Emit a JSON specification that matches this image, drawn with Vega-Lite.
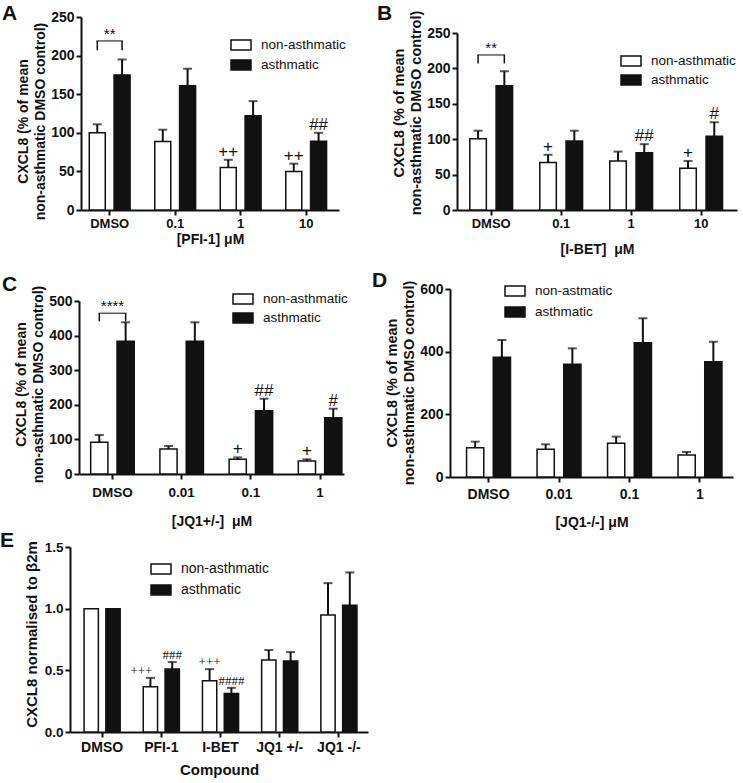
{
  "$schema": "https://vega.github.io/schema/vega-lite/v6.json",
  "padding": {"left": 0, "top": 2, "right": 0, "bottom": 0},
  "autosize": {"type": "pad"},
  "background": "white",
  "datasets": {
    "A": [
      {"conc": "DMSO", "group": "non-asthmatic", "mean": 100, "upper": 111, "ann": null},
      {"conc": "DMSO", "group": "asthmatic", "mean": 175, "upper": 195, "ann": null},
      {"conc": "0.1", "group": "non-asthmatic", "mean": 88.7, "upper": 104, "ann": null},
      {"conc": "0.1", "group": "asthmatic", "mean": 161, "upper": 183, "ann": null},
      {"conc": "1", "group": "non-asthmatic", "mean": 55, "upper": 65, "ann": "++"},
      {"conc": "1", "group": "asthmatic", "mean": 122, "upper": 141, "ann": null},
      {"conc": "10", "group": "non-asthmatic", "mean": 50, "upper": 60, "ann": "++"},
      {"conc": "10", "group": "asthmatic", "mean": 89, "upper": 100, "ann": "##"}
    ],
    "sA": [
      {"conc": "DMSO", "group": "non-asthmatic", "lo": 207, "hi": 219, "label": "**"},
      {"conc": "DMSO", "group": "asthmatic", "lo": 207, "hi": 219, "label": "**"}
    ],
    "B": [
      {"conc": "DMSO", "group": "non-asthmatic", "mean": 100.5, "upper": 112, "ann": null},
      {"conc": "DMSO", "group": "asthmatic", "mean": 175.5, "upper": 196, "ann": null},
      {"conc": "0.1", "group": "non-asthmatic", "mean": 67, "upper": 78, "ann": "+"},
      {"conc": "0.1", "group": "asthmatic", "mean": 97.6, "upper": 112, "ann": null},
      {"conc": "1", "group": "non-asthmatic", "mean": 69.3, "upper": 82.5, "ann": null},
      {"conc": "1", "group": "asthmatic", "mean": 80.7, "upper": 93, "ann": "##"},
      {"conc": "10", "group": "non-asthmatic", "mean": 59, "upper": 69.3, "ann": "+"},
      {"conc": "10", "group": "asthmatic", "mean": 104, "upper": 124, "ann": "#"}
    ],
    "sB": [
      {"conc": "DMSO", "group": "non-asthmatic", "lo": 207, "hi": 219, "label": "**"},
      {"conc": "DMSO", "group": "asthmatic", "lo": 207, "hi": 219, "label": "**"}
    ],
    "C": [
      {"conc": "DMSO", "group": "non-asthmatic", "mean": 91.6, "upper": 112.7, "ann": null},
      {"conc": "DMSO", "group": "asthmatic", "mean": 383.5, "upper": 438.4, "ann": null},
      {"conc": "0.01", "group": "non-asthmatic", "mean": 72.3, "upper": 81, "ann": null},
      {"conc": "0.01", "group": "asthmatic", "mean": 383.5, "upper": 438.4, "ann": null},
      {"conc": "0.1", "group": "non-asthmatic", "mean": 42.5, "upper": 48, "ann": "+"},
      {"conc": "0.1", "group": "asthmatic", "mean": 183, "upper": 217.6, "ann": "##"},
      {"conc": "1", "group": "non-asthmatic", "mean": 37.6, "upper": 42.5, "ann": "+"},
      {"conc": "1", "group": "asthmatic", "mean": 162.7, "upper": 188.7, "ann": "#"}
    ],
    "sC": [
      {"conc": "DMSO", "group": "non-asthmatic", "lo": 441, "hi": 464.5, "label": "****"},
      {"conc": "DMSO", "group": "asthmatic", "lo": 441, "hi": 464.5, "label": "****"}
    ],
    "D": [
      {"conc": "DMSO", "group": "non-astmatic", "mean": 93.6, "upper": 112.8},
      {"conc": "DMSO", "group": "asthmatic", "mean": 382, "upper": 437.3},
      {"conc": "0.01", "group": "non-astmatic", "mean": 88.3, "upper": 104.3},
      {"conc": "0.01", "group": "asthmatic", "mean": 359.6, "upper": 410.6},
      {"conc": "0.1", "group": "non-astmatic", "mean": 107.5, "upper": 128.7},
      {"conc": "0.1", "group": "asthmatic", "mean": 428.7, "upper": 506.5},
      {"conc": "1", "group": "non-astmatic", "mean": 70.2, "upper": 79.8},
      {"conc": "1", "group": "asthmatic", "mean": 368, "upper": 431.9}
    ],
    "E": [
      {"conc": "DMSO", "group": "non-asthmatic", "mean": 1.0, "upper": null, "ann": null},
      {"conc": "DMSO", "group": "asthmatic", "mean": 1.0, "upper": null, "ann": null},
      {"conc": "PFI-1", "group": "non-asthmatic", "mean": 0.366, "upper": 0.439, "ann": "+++"},
      {"conc": "PFI-1", "group": "asthmatic", "mean": 0.51, "upper": 0.567, "ann": "###"},
      {"conc": "I-BET", "group": "non-asthmatic", "mean": 0.415, "upper": 0.51, "ann": "+++"},
      {"conc": "I-BET", "group": "asthmatic", "mean": 0.312, "upper": 0.358, "ann": "####"},
      {"conc": "JQ1 +/-", "group": "non-asthmatic", "mean": 0.583, "upper": 0.665, "ann": null},
      {"conc": "JQ1 +/-", "group": "asthmatic", "mean": 0.575, "upper": 0.648, "ann": null},
      {"conc": "JQ1 -/-", "group": "non-asthmatic", "mean": 0.949, "upper": 1.207, "ann": null},
      {"conc": "JQ1 -/-", "group": "asthmatic", "mean": 1.028, "upper": 1.294, "ann": null}
    ]
  },
  "columns": 2,
  "spacing": {"row": 68, "column": 116},
  "align": "all",
  "bounds": "flush",
  "concat": [
    {
      "width": 260, "height": 193,
      "title": {"text": "A", "dx": -79, "dy": 18},
      "layer": [
        {"data": {"name": "A"},
         "mark": {"type": "bar", "stroke": "#111", "strokeWidth": 1.5},
         "encoding": {
           "x": {"field": "conc", "type": "nominal", "scale": {"domain": ["DMSO", "0.1", "1", "10"], "range": [0, 258], "paddingInner": 0.377, "paddingOuter": 0.158, "align": 0.4}, "axis": {"title": "[PFI-1] μM", "labelPadding": 2.4, "titlePadding": 2}},
           "xOffset": {"field": "group", "type": "nominal", "scale": {"domain": ["non-asthmatic", "asthmatic"], "paddingInner": 0.355, "paddingOuter": 0}},
           "y": {"field": "mean", "type": "quantitative", "scale": {"domain": [0, 250], "nice": false}, "axis": {"title": ["CXCL8 (% of mean", "non-asthmatic DMSO control)"], "values": [0, 50, 100, 150, 200, 250], "labelOverlap": false, "titleY": 104}},
           "fill": {"field": "group", "type": "nominal", "scale": {"domain": ["non-asthmatic", "asthmatic"], "range": ["#ffffff", "#111111"]}, "legend": {"title": null, "legendX": 149, "legendY": 17, "rowPadding": 1}}
         }},
        {"data": {"name": "A"}, "transform": [{"filter": "datum.upper != null"}],
         "mark": {"type": "rule", "color": "#111", "strokeWidth": 2},
         "encoding": {"x": {"field": "conc", "type": "nominal"}, "xOffset": {"field": "group", "type": "nominal"}, "y": {"field": "mean", "type": "quantitative", "scale": {"domain": [0, 250], "nice": false}, "axis": {"title": ["CXCL8 (% of mean", "non-asthmatic DMSO control)"], "values": [0, 50, 100, 150, 200, 250], "labelOverlap": false, "titleY": 104}}, "y2": {"field": "upper"}}},
        {"data": {"name": "A"}, "transform": [{"filter": "datum.upper != null"}],
         "mark": {"type": "tick", "color": "#111", "size": 9, "thickness": 2, "orient": "horizontal"},
         "encoding": {"x": {"field": "conc", "type": "nominal"}, "xOffset": {"field": "group", "type": "nominal"}, "y": {"field": "upper", "type": "quantitative", "scale": {"domain": [0, 250], "nice": false}, "axis": {"title": ["CXCL8 (% of mean", "non-asthmatic DMSO control)"], "values": [0, 50, 100, 150, 200, 250], "labelOverlap": false, "titleY": 104}}}},
        {"data": {"name": "A"}, "transform": [{"filter": "datum.ann != null"}],
         "mark": {"type": "text", "dy": -3, "baseline": "alphabetic", "fontSize": 17, "font": "Liberation Sans", "color": "#111"},
         "encoding": {"x": {"field": "conc", "type": "nominal"}, "xOffset": {"field": "group", "type": "nominal"}, "y": {"field": "upper", "type": "quantitative", "scale": {"domain": [0, 250], "nice": false}, "axis": {"title": ["CXCL8 (% of mean", "non-asthmatic DMSO control)"], "values": [0, 50, 100, 150, 200, 250], "labelOverlap": false, "titleY": 104}}, "text": {"field": "ann"}}},
        {"data": {"name": "sA"},
         "mark": {"type": "rule", "color": "#111", "strokeWidth": 1.5},
         "encoding": {"x": {"field": "conc", "type": "nominal"}, "xOffset": {"field": "group", "type": "nominal"}, "y": {"field": "lo", "type": "quantitative", "scale": {"domain": [0, 250], "nice": false}, "axis": {"title": ["CXCL8 (% of mean", "non-asthmatic DMSO control)"], "values": [0, 50, 100, 150, 200, 250], "labelOverlap": false, "titleY": 104}}, "y2": {"field": "hi"}}},
        {"data": {"name": "sA"}, "transform": [{"filter": "datum.group == 'asthmatic'"}],
         "mark": {"type": "tick", "color": "#111", "size": 26.3, "thickness": 1.5, "orient": "horizontal"},
         "encoding": {"x": {"field": "conc", "type": "nominal"}, "y": {"field": "hi", "type": "quantitative", "scale": {"domain": [0, 250], "nice": false}, "axis": {"title": ["CXCL8 (% of mean", "non-asthmatic DMSO control)"], "values": [0, 50, 100, 150, 200, 250], "labelOverlap": false, "titleY": 104}}}},
        {"data": {"name": "sA"}, "transform": [{"filter": "datum.group == 'asthmatic'"}],
         "mark": {"type": "text", "dy": -2, "baseline": "alphabetic", "fontSize": 15, "font": "Liberation Sans", "color": "#111"},
         "encoding": {"x": {"field": "conc", "type": "nominal"}, "y": {"field": "hi", "type": "quantitative", "scale": {"domain": [0, 250], "nice": false}, "axis": {"title": ["CXCL8 (% of mean", "non-asthmatic DMSO control)"], "values": [0, 50, 100, 150, 200, 250], "labelOverlap": false, "titleY": 104}}, "text": {"field": "label"}}}
      ]
    },
    {
      "width": 260, "height": 193,
      "title": {"text": "B", "dx": -80, "dy": 17.5},
      "layer": [
        {"data": {"name": "B"},
         "mark": {"type": "bar", "stroke": "#111", "strokeWidth": 1.5},
         "encoding": {
           "x": {"field": "conc", "type": "nominal", "scale": {"domain": ["DMSO", "0.1", "1", "10"], "range": [0, 280], "paddingInner": 0.389, "paddingOuter": 0.195, "align": 0.47}, "axis": {"title": "[I-BET]\u00a0 μM", "labelPadding": 2.4, "titlePadding": 12}},
           "xOffset": {"field": "group", "type": "nominal", "scale": {"domain": ["non-asthmatic", "asthmatic"], "paddingInner": 0.371, "paddingOuter": 0}},
           "y": {"field": "mean", "type": "quantitative", "scale": {"domain": [0, 250], "nice": false, "range": [193, 16]}, "axis": {"title": ["CXCL8 (% of mean", "non-asthmatic DMSO control)"], "values": [0, 50, 100, 150, 200, 250], "labelOverlap": false, "titleY": 95.5, "titleFontSize": 14.5}},
           "fill": {"field": "group", "type": "nominal", "scale": {"domain": ["non-asthmatic", "asthmatic"], "range": ["#ffffff", "#111111"]}, "legend": {"title": null, "legendX": 163, "legendY": 33, "rowPadding": 0}}
         }},
        {"data": {"name": "B"}, "transform": [{"filter": "datum.upper != null"}],
         "mark": {"type": "rule", "color": "#111", "strokeWidth": 2},
         "encoding": {"x": {"field": "conc", "type": "nominal"}, "xOffset": {"field": "group", "type": "nominal"}, "y": {"field": "mean", "type": "quantitative", "scale": {"domain": [0, 250], "nice": false, "range": [193, 16]}, "axis": {"title": ["CXCL8 (% of mean", "non-asthmatic DMSO control)"], "values": [0, 50, 100, 150, 200, 250], "labelOverlap": false, "titleY": 95.5, "titleFontSize": 14.5}}, "y2": {"field": "upper"}}},
        {"data": {"name": "B"}, "transform": [{"filter": "datum.upper != null"}],
         "mark": {"type": "tick", "color": "#111", "size": 9, "thickness": 2, "orient": "horizontal"},
         "encoding": {"x": {"field": "conc", "type": "nominal"}, "xOffset": {"field": "group", "type": "nominal"}, "y": {"field": "upper", "type": "quantitative", "scale": {"domain": [0, 250], "nice": false, "range": [193, 16]}, "axis": {"title": ["CXCL8 (% of mean", "non-asthmatic DMSO control)"], "values": [0, 50, 100, 150, 200, 250], "labelOverlap": false, "titleY": 95.5, "titleFontSize": 14.5}}}},
        {"data": {"name": "B"}, "transform": [{"filter": "datum.ann != null"}],
         "mark": {"type": "text", "dy": -3, "baseline": "alphabetic", "fontSize": 17, "font": "Liberation Sans", "color": "#111"},
         "encoding": {"x": {"field": "conc", "type": "nominal"}, "xOffset": {"field": "group", "type": "nominal"}, "y": {"field": "upper", "type": "quantitative", "scale": {"domain": [0, 250], "nice": false, "range": [193, 16]}, "axis": {"title": ["CXCL8 (% of mean", "non-asthmatic DMSO control)"], "values": [0, 50, 100, 150, 200, 250], "labelOverlap": false, "titleY": 95.5, "titleFontSize": 14.5}}, "text": {"field": "ann"}}},
        {"data": {"name": "sB"},
         "mark": {"type": "rule", "color": "#111", "strokeWidth": 1.5},
         "encoding": {"x": {"field": "conc", "type": "nominal"}, "xOffset": {"field": "group", "type": "nominal"}, "y": {"field": "lo", "type": "quantitative", "scale": {"domain": [0, 250], "nice": false, "range": [193, 16]}, "axis": {"title": ["CXCL8 (% of mean", "non-asthmatic DMSO control)"], "values": [0, 50, 100, 150, 200, 250], "labelOverlap": false, "titleY": 95.5, "titleFontSize": 14.5}}, "y2": {"field": "hi"}}},
        {"data": {"name": "sB"}, "transform": [{"filter": "datum.group == 'asthmatic'"}],
         "mark": {"type": "tick", "color": "#111", "size": 27.7, "thickness": 1.5, "orient": "horizontal"},
         "encoding": {"x": {"field": "conc", "type": "nominal"}, "y": {"field": "hi", "type": "quantitative", "scale": {"domain": [0, 250], "nice": false, "range": [193, 16]}, "axis": {"title": ["CXCL8 (% of mean", "non-asthmatic DMSO control)"], "values": [0, 50, 100, 150, 200, 250], "labelOverlap": false, "titleY": 95.5, "titleFontSize": 14.5}}}},
        {"data": {"name": "sB"}, "transform": [{"filter": "datum.group == 'asthmatic'"}],
         "mark": {"type": "text", "dy": -2, "baseline": "alphabetic", "fontSize": 15, "font": "Liberation Sans", "color": "#111"},
         "encoding": {"x": {"field": "conc", "type": "nominal"}, "y": {"field": "hi", "type": "quantitative", "scale": {"domain": [0, 250], "nice": false, "range": [193, 16]}, "axis": {"title": ["CXCL8 (% of mean", "non-asthmatic DMSO control)"], "values": [0, 50, 100, 150, 200, 250], "labelOverlap": false, "titleY": 95.5, "titleFontSize": 14.5}}, "text": {"field": "label"}}}
      ]
    },
    {
      "width": 260, "height": 193,
      "title": {"text": "C", "dx": -79, "dy": 17.5},
      "layer": [
        {"data": {"name": "C"},
         "mark": {"type": "bar", "stroke": "#111", "strokeWidth": 1.5},
         "encoding": {
           "x": {"field": "conc", "type": "nominal", "scale": {"domain": ["DMSO", "0.01", "0.1", "1"], "range": [-2, 263], "paddingInner": 0.371, "paddingOuter": 0.1, "align": 0.845}, "axis": {"title": "[JQ1+/-]\u00a0 μM", "labelPadding": 6.4, "titlePadding": 16, "labelFontSize": 13.5}},
           "xOffset": {"field": "group", "type": "nominal", "scale": {"domain": ["non-asthmatic", "asthmatic"], "paddingInner": 0.347, "paddingOuter": 0}},
           "y": {"field": "mean", "type": "quantitative", "scale": {"domain": [0, 500], "nice": false, "range": [193, 20]}, "axis": {"title": ["CXCL8 (% of mean", "non-asthmatic DMSO control)"], "values": [0, 100, 200, 300, 400, 500], "labelOverlap": false, "titleY": 103, "offset": 2}},
           "fill": {"field": "group", "type": "nominal", "scale": {"domain": ["non-asthmatic", "asthmatic"], "range": ["#ffffff", "#111111"]}, "legend": {"title": null, "legendX": 151, "legendY": 7, "rowPadding": 0}}
         }},
        {"data": {"name": "C"}, "transform": [{"filter": "datum.upper != null"}],
         "mark": {"type": "rule", "color": "#111", "strokeWidth": 2},
         "encoding": {"x": {"field": "conc", "type": "nominal"}, "xOffset": {"field": "group", "type": "nominal"}, "y": {"field": "mean", "type": "quantitative", "scale": {"domain": [0, 500], "nice": false, "range": [193, 20]}, "axis": {"title": ["CXCL8 (% of mean", "non-asthmatic DMSO control)"], "values": [0, 100, 200, 300, 400, 500], "labelOverlap": false, "titleY": 103, "offset": 2}}, "y2": {"field": "upper"}}},
        {"data": {"name": "C"}, "transform": [{"filter": "datum.upper != null"}],
         "mark": {"type": "tick", "color": "#111", "size": 9, "thickness": 2, "orient": "horizontal"},
         "encoding": {"x": {"field": "conc", "type": "nominal"}, "xOffset": {"field": "group", "type": "nominal"}, "y": {"field": "upper", "type": "quantitative", "scale": {"domain": [0, 500], "nice": false, "range": [193, 20]}, "axis": {"title": ["CXCL8 (% of mean", "non-asthmatic DMSO control)"], "values": [0, 100, 200, 300, 400, 500], "labelOverlap": false, "titleY": 103, "offset": 2}}}},
        {"data": {"name": "C"}, "transform": [{"filter": "datum.ann != null"}],
         "mark": {"type": "text", "dy": -3, "baseline": "alphabetic", "fontSize": 17, "font": "Liberation Sans", "color": "#111"},
         "encoding": {"x": {"field": "conc", "type": "nominal"}, "xOffset": {"field": "group", "type": "nominal"}, "y": {"field": "upper", "type": "quantitative", "scale": {"domain": [0, 500], "nice": false, "range": [193, 20]}, "axis": {"title": ["CXCL8 (% of mean", "non-asthmatic DMSO control)"], "values": [0, 100, 200, 300, 400, 500], "labelOverlap": false, "titleY": 103, "offset": 2}}, "text": {"field": "ann"}}},
        {"data": {"name": "sC"},
         "mark": {"type": "rule", "color": "#111", "strokeWidth": 1.5},
         "encoding": {"x": {"field": "conc", "type": "nominal"}, "xOffset": {"field": "group", "type": "nominal"}, "y": {"field": "lo", "type": "quantitative", "scale": {"domain": [0, 500], "nice": false, "range": [193, 20]}, "axis": {"title": ["CXCL8 (% of mean", "non-asthmatic DMSO control)"], "values": [0, 100, 200, 300, 400, 500], "labelOverlap": false, "titleY": 103, "offset": 2}}, "y2": {"field": "hi"}}},
        {"data": {"name": "sC"}, "transform": [{"filter": "datum.group == 'asthmatic'"}],
         "mark": {"type": "tick", "color": "#111", "size": 27.8, "thickness": 1.5, "orient": "horizontal"},
         "encoding": {"x": {"field": "conc", "type": "nominal"}, "y": {"field": "hi", "type": "quantitative", "scale": {"domain": [0, 500], "nice": false, "range": [193, 20]}, "axis": {"title": ["CXCL8 (% of mean", "non-asthmatic DMSO control)"], "values": [0, 100, 200, 300, 400, 500], "labelOverlap": false, "titleY": 103, "offset": 2}}}},
        {"data": {"name": "sC"}, "transform": [{"filter": "datum.group == 'asthmatic'"}],
         "mark": {"type": "text", "dy": -2, "baseline": "alphabetic", "fontSize": 15, "font": "Liberation Sans", "color": "#111"},
         "encoding": {"x": {"field": "conc", "type": "nominal"}, "y": {"field": "hi", "type": "quantitative", "scale": {"domain": [0, 500], "nice": false, "range": [193, 20]}, "axis": {"title": ["CXCL8 (% of mean", "non-asthmatic DMSO control)"], "values": [0, 100, 200, 300, 400, 500], "labelOverlap": false, "titleY": 103, "offset": 2}}, "text": {"field": "label"}}}
      ]
    },
    {
      "width": 260, "height": 196,
      "title": {"text": "D", "dx": -85, "dy": 15},
      "layer": [
        {"data": {"name": "D"},
         "mark": {"type": "bar", "stroke": "#111", "strokeWidth": 1.5},
         "encoding": {
           "x": {"field": "conc", "type": "nominal", "scale": {"domain": ["DMSO", "0.01", "0.1", "1"], "range": [-7, 276], "paddingInner": 0.377, "paddingOuter": 0.196, "align": 0.6}, "axis": {"title": "[JQ1-/-] μM", "labelPadding": 5.4, "titlePadding": 14, "labelFontSize": 14}},
           "xOffset": {"field": "group", "type": "nominal", "scale": {"domain": ["non-astmatic", "asthmatic"], "paddingInner": 0.356, "paddingOuter": 0}},
           "y": {"field": "mean", "type": "quantitative", "scale": {"domain": [0, 600], "nice": false, "range": [196, 8]}, "axis": {"title": ["CXCL8 (% of mean", "non-asthmatic DMSO control)"], "values": [0, 200, 400, 600], "labelOverlap": false, "titleY": 101.5, "offset": 7, "titleFontSize": 14.5}},
           "fill": {"field": "group", "type": "nominal", "scale": {"domain": ["non-astmatic", "asthmatic"], "range": ["#ffffff", "#111111"]}, "legend": {"title": null, "legendX": 47, "legendY": -1, "rowPadding": 2}}
         }},
        {"data": {"name": "D"},
         "mark": {"type": "rule", "color": "#111", "strokeWidth": 2},
         "encoding": {"x": {"field": "conc", "type": "nominal"}, "xOffset": {"field": "group", "type": "nominal"}, "y": {"field": "mean", "type": "quantitative", "scale": {"domain": [0, 600], "nice": false, "range": [196, 8]}, "axis": {"title": ["CXCL8 (% of mean", "non-asthmatic DMSO control)"], "values": [0, 200, 400, 600], "labelOverlap": false, "titleY": 101.5, "offset": 7, "titleFontSize": 14.5}}, "y2": {"field": "upper"}}},
        {"data": {"name": "D"},
         "mark": {"type": "tick", "color": "#111", "size": 9, "thickness": 2, "orient": "horizontal"},
         "encoding": {"x": {"field": "conc", "type": "nominal"}, "xOffset": {"field": "group", "type": "nominal"}, "y": {"field": "upper", "type": "quantitative", "scale": {"domain": [0, 600], "nice": false, "range": [196, 8]}, "axis": {"title": ["CXCL8 (% of mean", "non-asthmatic DMSO control)"], "values": [0, 200, 400, 600], "labelOverlap": false, "titleY": 101.5, "offset": 7, "titleFontSize": 14.5}}}}
      ]
    },
    {
      "width": 260, "height": 187,
      "title": {"text": "E", "dx": -81, "dy": 14.5},
      "layer": [
        {"data": {"name": "E"},
         "mark": {"type": "bar", "stroke": "#111", "strokeWidth": 1.5},
         "encoding": {
           "x": {"field": "conc", "type": "nominal", "scale": {"domain": ["DMSO", "PFI-1", "I-BET", "JQ1 +/-", "JQ1 -/-"], "range": [-11, 287], "paddingInner": 0.39, "paddingOuter": 0.212, "align": 0.56}, "axis": {"title": "Compound", "labelPadding": 3.2, "titlePadding": 8, "labelFontSize": 14, "titleFontSize": 15}},
           "xOffset": {"field": "group", "type": "nominal", "scale": {"domain": ["non-asthmatic", "asthmatic"], "paddingInner": 0.344, "paddingOuter": 0}},
           "y": {"field": "mean", "type": "quantitative", "scale": {"domain": [0, 1.5], "nice": false, "range": [187, 2]}, "axis": {"title": "CXCL8 normalised to β2m", "values": [0, 0.5, 1, 1.5], "format": ".1f", "labelOverlap": false, "titleY": 89, "offset": 11, "titleFontSize": 15, "labelFontSize": 13.5, "titlePadding": 5}},
           "fill": {"field": "group", "type": "nominal", "scale": {"domain": ["non-asthmatic", "asthmatic"], "range": ["#ffffff", "#111111"]}, "legend": {"title": null, "legendX": 69, "legendY": 13, "rowPadding": 2, "labelFontSize": 14}}
         }},
        {"data": {"name": "E"}, "transform": [{"filter": "datum.upper != null"}],
         "mark": {"type": "rule", "color": "#111", "strokeWidth": 2},
         "encoding": {"x": {"field": "conc", "type": "nominal"}, "xOffset": {"field": "group", "type": "nominal"}, "y": {"field": "mean", "type": "quantitative", "scale": {"domain": [0, 1.5], "nice": false, "range": [187, 2]}, "axis": {"title": "CXCL8 normalised to β2m", "values": [0, 0.5, 1, 1.5], "format": ".1f", "labelOverlap": false, "titleY": 89, "offset": 11, "titleFontSize": 15, "labelFontSize": 13.5, "titlePadding": 5}}, "y2": {"field": "upper"}}},
        {"data": {"name": "E"}, "transform": [{"filter": "datum.upper != null"}],
         "mark": {"type": "tick", "color": "#111", "size": 9, "thickness": 2, "orient": "horizontal"},
         "encoding": {"x": {"field": "conc", "type": "nominal"}, "xOffset": {"field": "group", "type": "nominal"}, "y": {"field": "upper", "type": "quantitative", "scale": {"domain": [0, 1.5], "nice": false, "range": [187, 2]}, "axis": {"title": "CXCL8 normalised to β2m", "values": [0, 0.5, 1, 1.5], "format": ".1f", "labelOverlap": false, "titleY": 89, "offset": 11, "titleFontSize": 15, "labelFontSize": 13.5, "titlePadding": 5}}}},
        {"data": {"name": "E"}, "transform": [{"filter": "datum.ann != null && !(datum.conc == 'PFI-1' && datum.group == 'non-asthmatic')"}],
         "mark": {"type": "text", "dy": -3, "baseline": "alphabetic", "fontSize": 13, "font": "Liberation Serif", "color": "#111"},
         "encoding": {"x": {"field": "conc", "type": "nominal"}, "xOffset": {"field": "group", "type": "nominal"}, "y": {"field": "upper", "type": "quantitative", "scale": {"domain": [0, 1.5], "nice": false, "range": [187, 2]}, "axis": {"title": "CXCL8 normalised to β2m", "values": [0, 0.5, 1, 1.5], "format": ".1f", "labelOverlap": false, "titleY": 89, "offset": 11, "titleFontSize": 15, "labelFontSize": 13.5, "titlePadding": 5}}, "text": {"field": "ann"}}},
        {"data": {"name": "E"}, "transform": [{"filter": "datum.conc == 'PFI-1' && datum.group == 'non-asthmatic'"}],
         "mark": {"type": "text", "dy": -3, "dx": -9, "baseline": "alphabetic", "fontSize": 13, "font": "Liberation Serif", "color": "#111"},
         "encoding": {"x": {"field": "conc", "type": "nominal"}, "xOffset": {"field": "group", "type": "nominal"}, "y": {"field": "upper", "type": "quantitative", "scale": {"domain": [0, 1.5], "nice": false, "range": [187, 2]}, "axis": {"title": "CXCL8 normalised to β2m", "values": [0, 0.5, 1, 1.5], "format": ".1f", "labelOverlap": false, "titleY": 89, "offset": 11, "titleFontSize": 15, "labelFontSize": 13.5, "titlePadding": 5}}, "text": {"field": "ann"}}}
      ]
    }
  ],
  "resolve": {
    "scale": {"x": "independent", "y": "independent", "xOffset": "independent", "fill": "independent"},
    "legend": {"fill": "independent"},
    "axis": {"x": "independent", "y": "independent"}
  },
  "config": {
    "font": "Liberation Sans",
    "view": {"stroke": null},
    "axis": {"domainColor": "#111", "domainWidth": 2, "tickColor": "#111", "tickWidth": 2, "tickSize": 5, "grid": false, "labelOverlap": false, "labelFont": "Liberation Sans", "labelFontWeight": "bold", "labelColor": "#111", "labelFontSize": 13, "titleFont": "Liberation Sans", "titleFontWeight": "bold", "titleColor": "#111", "titleFontSize": 14},
    "axisX": {"labelAngle": 0},
    "axisY": {"labelFontSize": 14, "labelPadding": 2, "titlePadding": 3, "titleLineHeight": 17},
    "legend": {"orient": "none", "symbolType": "M-1,-0.5H1V0.5H-1Z", "symbolSize": 400, "symbolStrokeColor": "#111", "symbolStrokeWidth": 1.5, "labelFont": "Liberation Sans", "labelFontSize": 13.5, "labelColor": "#111", "labelOffset": 9, "padding": 0, "rowPadding": 1},
    "title": {"anchor": "start", "frame": "group", "fontSize": 21, "fontWeight": "bold", "color": "#111", "font": "Liberation Sans", "offset": 0}
  }
}
